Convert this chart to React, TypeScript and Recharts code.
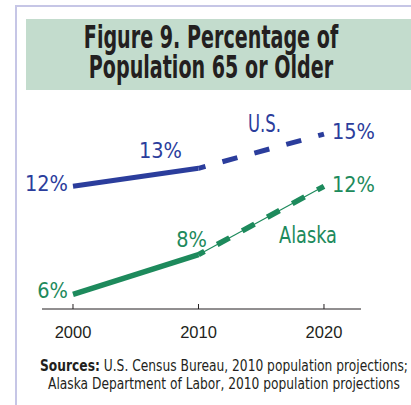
import React, { useLayoutEffect, useRef, useState } from 'react';
import { LineChart, Line, XAxis, YAxis, LabelList } from 'recharts';

const years = [2000, 2010, 2020];
const yearTicks = [2000, 2010, 2020];
const usValues = [12.0, 13.0, 14.9];
const alaskaValues = [6.0, 8.2, 12.0];
const usLabels = ['12%', '13%', '15%'];
const alaskaLabels = ['6%', '8%', '12%'];
const projectionFrom = 2010;
const titleLines = ['Figure 9. Percentage of', 'Population 65 or Older'];

const BLUE = '#2b3d9c';
const GREEN = '#1d8a5c';
const INK = '#231f20';
const NARROW = "'Liberation Sans Narrow', 'DejaVu Sans Condensed', sans-serif";

const rows = years.map((year, i) => ({
  year,
  us: usValues[i],
  usSolid: year <= projectionFrom ? usValues[i] : null,
  usProj: year >= projectionFrom ? usValues[i] : null,
  ak: alaskaValues[i],
  akSolid: year <= projectionFrom ? alaskaValues[i] : null,
  akProj: year >= projectionFrom ? alaskaValues[i] : null,
}));

// label placement per point: [anchor, dx, dy]
const labelPos: [string, number, number][] = [
  ['end', -5, 4.5],
  ['middle', -38, -10],
  ['start', 8, 4.5],
];
const akLabelPos: [string, number, number][] = [
  ['end', -5, 4],
  ['middle', -7, -8],
  ['start', 8, 5.5],
];

// squeezes text horizontally to a given width (the original uses a condensed face)
function FitText({ x, y, width, anchor = 'start', lineHeight = 0, lines, ...rest }: any) {
  const ref = useRef<SVGTextElement>(null);
  const [k, setK] = useState(1);
  useLayoutEffect(() => {
    const w = ref.current ? ref.current.getBBox().width : 0;
    if (w > 0) setK(width / w);
  }, [width]);
  return (
    <text ref={ref} transform={`translate(${x},${y}) scale(${k},1)`} textAnchor={anchor} {...rest}>
      {lines.map((l: any, i: number) => (
        <tspan key={i} x={0} y={i * lineHeight}>{l}</tspan>
      ))}
    </text>
  );
}

function makeLabel(texts: string[], pos: [string, number, number][], color: string) {
  return (props: any) => {
    const { x, y, index } = props;
    const [anchor, dx, dy] = pos[index];
    return (
      <text x={x + dx} y={y + dy} textAnchor={anchor} fill={color}
        fontFamily={NARROW} fontSize={21.5}>
        {texts[index]}
      </text>
    );
  };
}

function YearTick(props: any) {
  const { x, y, payload } = props;
  return (
    <g>
      <line x1={x} x2={x} y1={y - 5} y2={y} stroke={INK} strokeWidth={1} />
      <text x={x} y={y + 28.5} textAnchor="middle" fill={INK}
        fontFamily="'Liberation Sans', Arial, sans-serif" fontSize={16.5}>
        {payload.value}
      </text>
    </g>
  );
}

export default function App() {
  return (
    <div style={{ position: 'absolute', left: 0, top: 0, width: 411, height: 405, background: '#fff', overflow: 'hidden' }}>
      <LineChart width={411} height={405} data={rows}
        margin={{ top: 100, right: 50, bottom: 66, left: 42 }}>
        <XAxis dataKey="year" type="number" domain={[1997.53, 2022.95]} ticks={yearTicks}
          allowDataOverflow height={30} tickSize={0} tickMargin={0} tickLine={false}
          axisLine={{ stroke: INK, strokeWidth: 1 }} tick={<YearTick />} interval={0} />
        <YAxis hide type="number" domain={[5.183, 16.794]} allowDataOverflow />
        <Line dataKey="usSolid" type="linear" stroke={BLUE} strokeWidth={5} dot={false}
          activeDot={false} isAnimationActive={false} />
        <Line dataKey="usProj" type="linear" stroke={BLUE} strokeWidth={5} dot={false}
          strokeDasharray="15.5 17.6" strokeDashoffset={8.3}
          activeDot={false} isAnimationActive={false} />
        <Line dataKey="akSolid" type="linear" stroke={GREEN} strokeWidth={5.5} dot={false}
          activeDot={false} isAnimationActive={false} />
        <Line dataKey="akProj" type="linear" stroke={GREEN} strokeWidth={1.2} dot={false}
          activeDot={false} isAnimationActive={false} />
        <Line dataKey="akProj" type="linear" stroke={GREEN} strokeWidth={5.5} dot={false}
          strokeDasharray="14 14.5" strokeDashoffset={7.2}
          activeDot={false} isAnimationActive={false} />
        <Line dataKey="us" type="linear" stroke="none" dot={false} activeDot={false} isAnimationActive={false}>
          <LabelList dataKey="us" content={makeLabel(usLabels, labelPos, BLUE)} />
        </Line>
        <Line dataKey="ak" type="linear" stroke="none" dot={false} activeDot={false} isAnimationActive={false}>
          <LabelList dataKey="ak" content={makeLabel(alaskaLabels, akLabelPos, GREEN)} />
        </Line>
      </LineChart>
      <svg width={411} height={405} style={{ position: 'absolute', left: 0, top: 0, pointerEvents: 'none' }}>
        <rect x={16} y={6} width={600} height={600} fill="none" stroke="#c6c6e6" strokeWidth={2} />
        <rect x={26} y={19} width={400} height={71} fill="#c3dccd" />
        <FitText x={211} y={48} width={255} anchor="middle" lineHeight={30} fill={INK}
          fontFamily={NARROW} fontWeight="bold" fontSize={31.5} lines={titleLines} />
        <FitText x={248} y={131.5} width={33} fill={BLUE}
          fontFamily={NARROW} fontSize={24.5} lines={['U.S.']} />
        <FitText x={279} y={242.5} width={58} fill={GREEN}
          fontFamily={NARROW} fontSize={23} lines={['Alaska']} />
        <FitText x={224} y={371} width={368} anchor="middle" lineHeight={18} fill={INK}
          fontFamily={NARROW} fontSize={15}
          lines={[
            <><tspan fontWeight="bold">Sources:</tspan> U.S. Census Bureau, 2010 population projections;</>,
            'Alaska Department of Labor, 2010 population projections',
          ]} />
      </svg>
    </div>
  );
}
